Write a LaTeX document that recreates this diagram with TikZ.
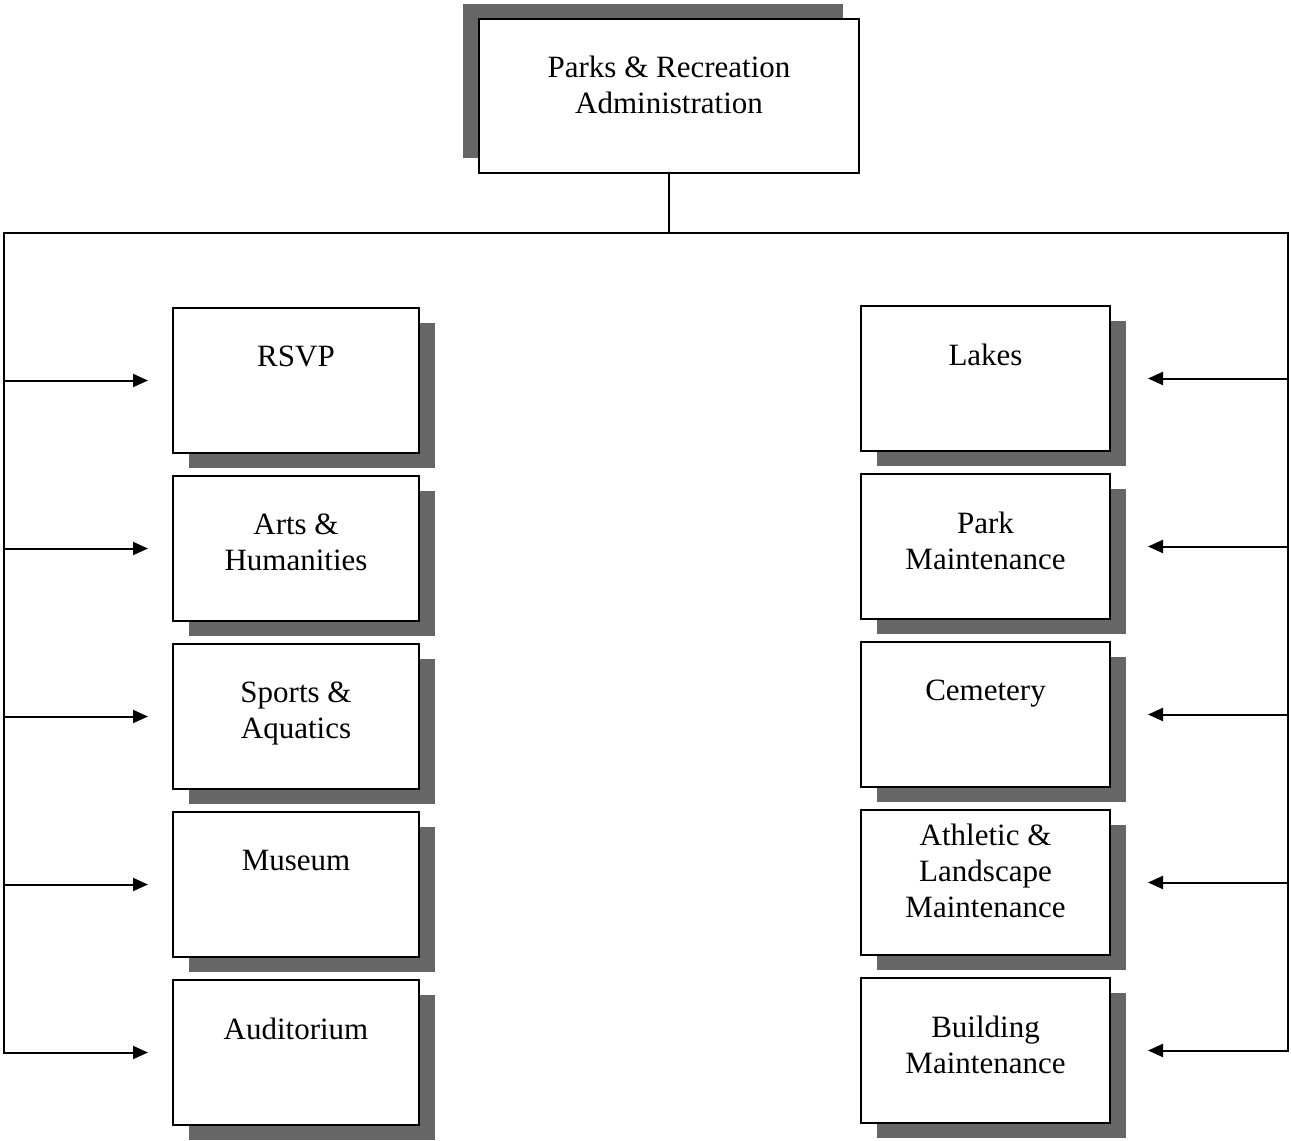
\documentclass[tikz,border=0pt]{standalone}
\usepackage{fontspec}
\setmainfont{Liberation Serif}
\usetikzlibrary{shadows,arrows.meta}
\definecolor{shadowgray}{gray}{0.4}
\tikzset{
  unitbox/.style={draw=black, fill=white, line width=2pt, anchor=north west,
    inner sep=0pt, minimum width=#1, minimum height=145pt},
  lowshadow/.style={drop shadow={shadow xshift=16pt, shadow yshift=-15pt,
    fill=shadowgray, opacity=1, draw=none}},
  highshadow/.style={drop shadow={shadow xshift=-16pt, shadow yshift=15pt,
    fill=shadowgray, opacity=1, draw=none}},
  lbl/.style={anchor=north, inner sep=0pt, align=center,
    font=\fontsize{31}{36}\selectfont},
  trunk/.style={line width=2pt, line cap=rect},
  arr/.style={line width=2pt, -{Triangle[length=15pt,width=13pt]}}
}
\begin{document}
\begin{tikzpicture}[x=1pt,y=-1pt]
\useasboundingbox (0,0) rectangle (1291,1141);

% head office
\node[unitbox=380pt, minimum height=154pt, highshadow] (adm) at (478,18) {};
\node[lbl] (admt) at ([yshift=-38pt]adm.north) {Parks \& Recreation\\Administration};

% left column of units
\foreach \n/\y in {l1/307,l2/475,l3/643,l4/811,l5/979}
  \node[unitbox=246pt, lowshadow] (\n) at (172,\y) {};
\node[lbl] (l1t) at ([yshift=-39pt]l1.north) {RSVP};
\node[lbl] (l2t) at ([yshift=-39pt]l2.north) {Arts \&\\Humanities};
\node[lbl] (l3t) at ([yshift=-39pt]l3.north) {Sports \&\\Aquatics};
\node[lbl] (l4t) at ([yshift=-39pt]l4.north) {Museum};
\node[lbl] (l5t) at ([yshift=-39pt]l5.north) {Auditorium};

% right column of units
\foreach \n/\y in {r1/305,r2/473,r3/641,r4/809,r5/977}
  \node[unitbox=249pt, lowshadow] (\n) at (860,\y) {};
\node[lbl] (r1t) at ([yshift=-39pt]r1.north) {Lakes};
\node[lbl] (r2t) at ([yshift=-39pt]r2.north) {Park\\Maintenance};
\node[lbl] (r3t) at ([yshift=-39pt]r3.north) {Cemetery};
\node[lbl] (r4t) at ([yshift=-15pt]r4.north) {Athletic \&\\Landscape\\Maintenance};
\node[lbl] (r5t) at ([yshift=-39pt]r5.north) {Building\\Maintenance};

% distribution lines
\coordinate (lt) at (4,233);
\coordinate (rt) at (1288,233);
\draw[trunk] (adm.south) -- (adm.south |- lt);
\draw[trunk] (lt |- l5.west) -- (lt) -- (rt) -- (rt |- r5.east);

\foreach \n in {l1,l2,l3,l4,l5}
  \draw[arr, shorten >=24pt] (lt |- \n.west) -- (\n.west);
\foreach \n in {r1,r2,r3,r4,r5}
  \draw[arr, shorten >=37pt] (rt |- \n.east) -- (\n.east);
\end{tikzpicture}
\end{document}
